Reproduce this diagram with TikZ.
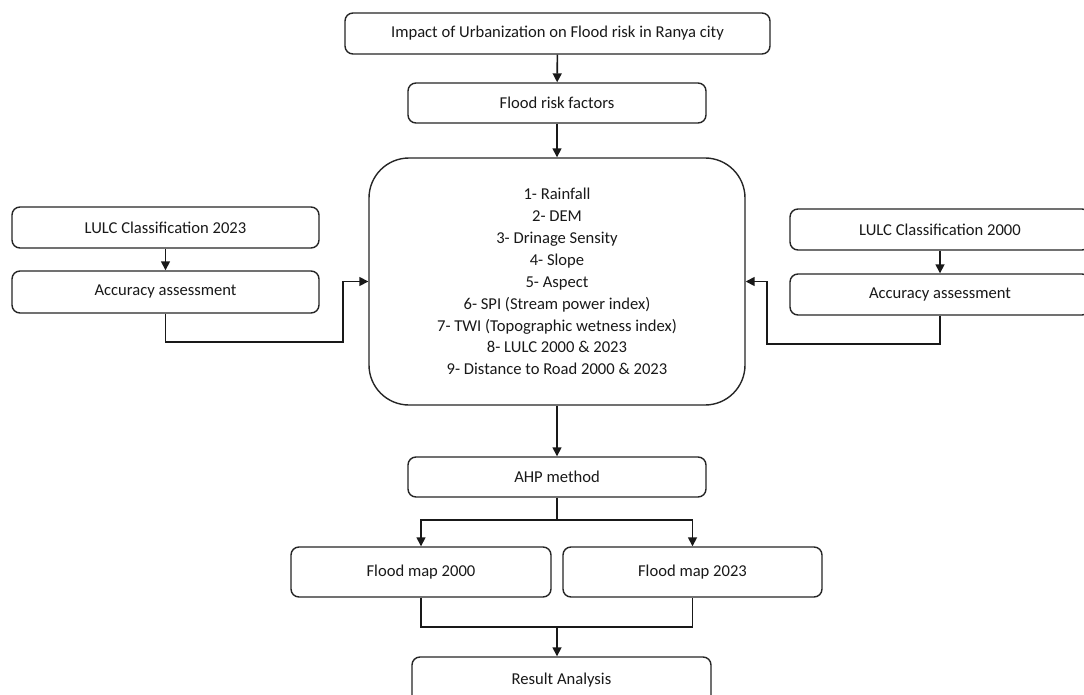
\documentclass[tikz,border=0pt]{standalone}
\usepackage{fontspec}
\setmainfont{Carlito}
\usetikzlibrary{arrows.meta}
\begin{document}
\begin{tikzpicture}[x=1pt,y=-1pt,
  box/.style={draw=black!85,line width=1.4pt,rounded corners=8pt,inner sep=0pt,align=center,
    font=\fontsize{16.6}{21.9}\selectfont,text=black!90},
  conn/.style={line width=1.6pt,draw=black!90},
  arr/.style={conn,-{Triangle[length=9pt,width=9pt]}}]
\useasboundingbox (0,0) rectangle (1084,695);
\clip (0,0) rectangle (1084,695);
\fill[white] (0,0) rectangle (1084,695);
\node[box,minimum width=425pt,minimum height=41pt] (title) at (557.5,33.5) {Impact of Urbanization on Flood risk in Ranya city};
\node[box,minimum width=298pt,minimum height=40pt] (frf) at (557,103) {Flood risk factors};
\node[box,rounded corners=40pt,minimum width=376pt,minimum height=247pt] (big) at (557,281.5) {1- Rainfall\\2- DEM\\3- Drinage Sensity\\4- Slope\\5- Aspect\\6- SPI (Stream power index)\\7- TWI (Topographic wetness index)\\8- LULC 2000 \& 2023\\9- Distance to Road 2000 \& 2023};
\node[box,minimum width=307pt,minimum height=41pt] (l23) at (165.5,227.5) {LULC Classification 2023};
\node[box,minimum width=307pt,minimum height=42pt] (a23) at (165.5,292) {Accuracy assessment};
\node[box,minimum width=300pt,minimum height=41pt] (l00) at (940,229.5) {LULC Classification 2000};
\node[box,minimum width=300pt,minimum height=41pt] (a00) at (940,294.5) {Accuracy assessment};
\node[box,minimum width=298pt,minimum height=40pt] (ahp) at (557,477) {AHP method};
\node[box,minimum width=260pt,minimum height=50pt] (fm00) at (421,572) {Flood map 2000};
\node[box,minimum width=259pt,minimum height=50pt] (fm23) at (692.5,572) {Flood map 2023};
\node[box,minimum width=299pt,minimum height=46pt] (res) at (561.5,680) {Result Analysis};
\coordinate (jl) at (343,342);
\coordinate (jr) at (767,344);
\coordinate (js) at (557,520);
\coordinate (jb) at (557,627);
\draw[arr] (title) -- (frf);
\draw[arr] (frf) -- (big);
\draw[arr] (l23) -- (a23);
\draw[arr] (l00) -- (a00);
\draw[arr] (a23.south) |- (jl) |- (big.west);
\draw[arr] (a00.south) |- (jr) |- (big.east);
\draw[arr] (big) -- (ahp);
\draw[conn] (ahp.south) -- (js);
\draw[arr] (js) -| (fm00.north);
\draw[arr] (js) -| (fm23.north);
\draw[conn] (fm00.south) |- (jb) -| (fm23.south);
\draw[arr] (jb) -- (jb |- res.north);
\end{tikzpicture}
\end{document}
